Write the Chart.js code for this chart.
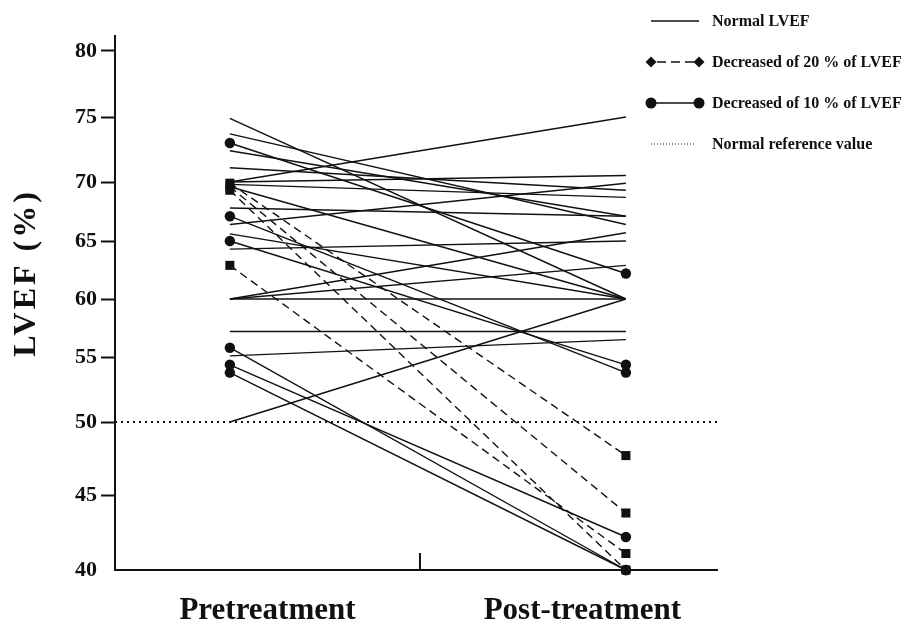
<!DOCTYPE html>
<html>
<head>
<meta charset="utf-8">
<title>LVEF before and after treatment</title>
<script src="https://cdn.jsdelivr.net/npm/chart.js@4.4.1/dist/chart.umd.min.js"></script>
<style>
  html, body { margin: 0; padding: 0; background: #fff; }
  #wrap { width: 909px; height: 619px; }
</style>
</head>
<body>
<div id="wrap"><canvas id="lvefChart" width="909" height="619"></canvas></div>
<script>
const phases = ['Pretreatment', 'Post-treatment']
const yTicks = [40, 45, 50, 55, 60, 65, 70, 75, 80]
const referenceValue = 50

// patients whose LVEF stayed normal
const normalPre  = [74.9, 73.7, 72.4, 71.1, 70.0, 70.0, 69.8, 69.6, 67.8, 66.4, 65.6, 64.3, 60.0, 60.0, 60.0, 57.2, 55.1, 50.0]
const normalPost = [60.0, 66.4, 67.1, 69.3, 75.0, 70.5, 68.7, 60.0, 67.1, 69.9, 60.0, 65.0, 65.7, 62.9, 60.0, 57.2, 56.5, 60.0]

// decreased by 20 %
const drop20Pre  = [69.9, 69.6, 69.3, 62.9]
const drop20Post = [47.7, 43.8, 40.0, 41.1]

// decreased by 10 %
const drop10Pre  = [73.0, 67.1, 65.0, 55.8, 54.4, 53.8]
const drop10Post = [62.2, 53.8, 54.4, 40.0, 42.2, 40.0]

const serif = '"Liberation Serif", "Times New Roman", serif'
const ink = '#111'

// the printed y axis is not evenly spaced, every 5 point band has its own length
class BandScale extends Chart.LinearScale {
    static id = 'band'
    static defaults = {}

    bandDecimal(value) {
        const stops = this.options.bandStops
        const sizes = this.options.bandSizes
        const total = sizes.reduce((a, b) => a + b, 0)
        let acc = 0
        for (let i = 0; i < sizes.length; i++) {
            if (value <= stops[i + 1] || i === sizes.length - 1) {
                return (acc + (value - stops[i]) / (stops[i + 1] - stops[i]) * sizes[i]) / total
            }
            acc += sizes[i]
        }
        return 0
    }
    getPixelForValue(value) {
        if (value === null || value === undefined || isNaN(value)) return NaN
        return this.getPixelForDecimal(this.bandDecimal(value))
    }
    getValueForPixel(pixel) {
        const stops = this.options.bandStops
        const sizes = this.options.bandSizes
        const total = sizes.reduce((a, b) => a + b, 0)
        let d = this.getDecimalForPixel(pixel) * total
        for (let i = 0; i < sizes.length; i++) {
            if (d <= sizes[i] || i === sizes.length - 1) {
                return stops[i] + d / sizes[i] * (stops[i + 1] - stops[i])
            }
            d -= sizes[i]
        }
    }
}
Chart.register(BandScale)

function pairData(pre, post) {
    return phases.map((_, i) => ({ x: i, y: i === 0 ? pre : post }))
}

const baseLine = {
    borderColor: ink,
    borderWidth: 1.4,
    pointBackgroundColor: ink,
    pointBorderWidth: 0,
    fill: false,
    tension: 0,
    clip: false
}

let datasets = []
drop10Pre.forEach((v, i) => {
    datasets.push({ ...baseLine, data: pairData(v, drop10Post[i]), pointStyle: 'circle', pointRadius: 5.2, order: 0 })
})
drop20Pre.forEach((v, i) => {
    datasets.push({ ...baseLine, data: pairData(v, drop20Post[i]), pointStyle: 'rect', pointRadius: 6.4, borderDash: [8, 5], order: 1 })
})
normalPre.forEach((v, i) => {
    datasets.push({ ...baseLine, data: pairData(v, normalPost[i]), pointRadius: 0, order: 2 })
})
datasets.push({
    ...baseLine,
    data: [{ x: -0.29, y: referenceValue }, { x: 1.23, y: referenceValue }],
    borderWidth: 2,
    borderDash: [2, 4],
    pointRadius: 0,
    clip: true,
    order: 3
})

const legendRows = [
    { text: 'Normal LVEF', dash: [], marker: null, end: 699 },
    { text: 'Decreased of 20 % of LVEF', dash: [9, 5], marker: 'rectRot', end: 699 },
    { text: 'Decreased of 10 % of LVEF', dash: [], marker: 'circle', end: 699 },
    { text: 'Normal reference value', dash: [1, 2], marker: null, end: 694 }
]

const decorPlugin = {
    id: 'decor',
    afterDraw(chart) {
        const { ctx, scales: { x, y } } = chart
        ctx.save()

        // small divider tick between the two groups
        const mx = x.getPixelForValue(0.48)
        ctx.strokeStyle = ink
        ctx.lineWidth = 2
        ctx.beginPath()
        ctx.moveTo(mx, y.bottom)
        ctx.lineTo(mx, y.bottom - 17)
        ctx.stroke()

        // legend, top right
        ctx.font = 'bold 16px ' + serif
        ctx.textBaseline = 'middle'
        ctx.textAlign = 'left'
        legendRows.forEach((row, i) => {
            const ly = 21 + i * 41
            ctx.strokeStyle = ink
            ctx.fillStyle = ink
            ctx.lineWidth = row.dash.length && row.dash[0] < 2 ? 1 : 1.5
            ctx.setLineDash(row.dash)
            ctx.beginPath()
            if (row.marker === 'rectRot') {
                ctx.moveTo(657, ly)
                ctx.lineTo(694, ly)
            } else {
                ctx.moveTo(651, ly)
                ctx.lineTo(row.end, ly)
            }
            ctx.stroke()
            ctx.setLineDash([])
            if (row.marker) {
                const opt = { pointStyle: row.marker, radius: 5.5, rotation: 0, borderWidth: 0 }
                Chart.helpers.drawPoint(ctx, opt, 651, ly)
                Chart.helpers.drawPoint(ctx, opt, 699, ly)
            }
            ctx.fillText(row.text, 712, ly + 1)
        })

        // y axis title
        ctx.translate(35, 273)
        ctx.rotate(-Math.PI / 2)
        ctx.font = 'bold 32px ' + serif
        ctx.letterSpacing = '3px'
        ctx.textAlign = 'center'
        ctx.textBaseline = 'alphabetic'
        ctx.fillStyle = ink
        ctx.fillText('LVEF (%)', 0, 0)
        ctx.restore()
    }
}

new Chart(document.getElementById('lvefChart'), {
    type: 'line',
    data: { datasets: datasets },
    plugins: [decorPlugin],
    options: {
        responsive: false,
        animation: false,
        devicePixelRatio: 1,
        events: [],
        layout: { padding: { left: 0, top: 36, right: 192, bottom: 0 } },
        plugins: {
            legend: { display: false },
            tooltip: { enabled: false }
        },
        scales: {
            x: {
                type: 'linear',
                min: -0.29,
                max: 1.23,
                bounds: 'data',
                afterBuildTicks: s => { s.ticks = [0.095, 0.89].map(v => ({ value: v })) },
                afterFit: s => { s.height = 49 },
                ticks: {
                    autoSkip: false,
                    maxRotation: 0,
                    padding: 14,
                    color: ink,
                    font: { family: serif, size: 31, weight: 'bold' },
                    callback: (v, i) => phases[i]
                },
                grid: { display: false },
                border: { display: true, color: ink, width: 2 }
            },
            y: {
                type: 'band',
                min: 40,
                max: 81.15,
                bounds: 'data',
                bandStops: [40, 45, 50, 55, 60, 65, 70, 75, 80, 81.15],
                bandSizes: [75, 73, 65, 58, 58, 59, 65, 66, 15],
                afterBuildTicks: s => { s.ticks = yTicks.map(v => ({ value: v })) },
                afterFit: s => { s.width = 115 },
                ticks: {
                    autoSkip: false,
                    padding: 4,
                    color: ink,
                    font: { family: serif, size: 22, weight: 'bold' },
                    callback: v => String(v)
                },
                grid: {
                    drawOnChartArea: false,
                    tickLength: 14,
                    tickWidth: 2,
                    tickColor: c => (c.tick && c.tick.value === 40) ? 'rgba(0,0,0,0)' : ink
                },
                border: { display: true, color: ink, width: 2 }
            }
        }
    }
})
</script>
</body>
</html>
